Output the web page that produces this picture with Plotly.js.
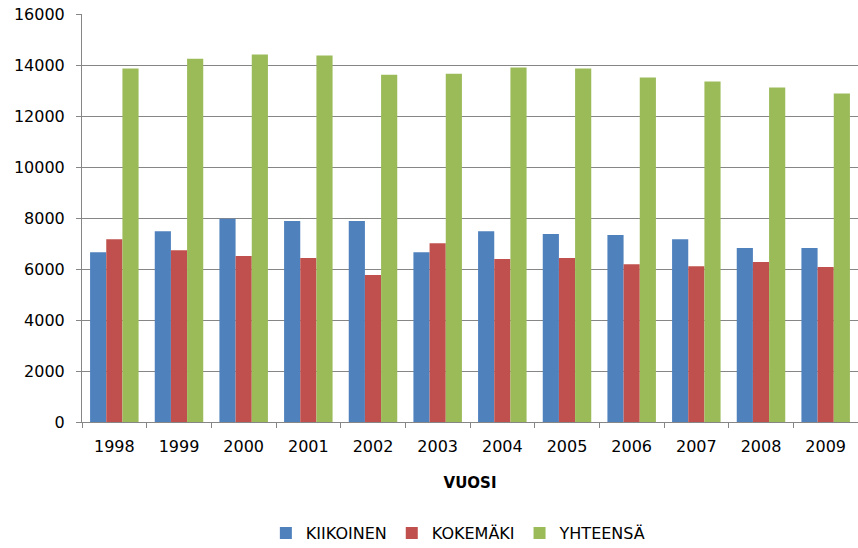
<!DOCTYPE html>
<html>
<head>
<meta charset="utf-8">
<script src="https://cdn.plot.ly/plotly-3.0.1.min.js"></script>
<style>html,body{margin:0;padding:0;background:#fff;}#chart{width:858px;height:548px;}</style>
</head>
<body>
<div id="chart"></div>
<script>
const years = ["1998","1999","2000","2001","2002","2003","2004","2005","2006","2007","2008","2009"];
const kiikoinen = [6660, 7480, 7970, 7880, 7880, 6660, 7480, 7370, 7330, 7170, 6820, 6820];
const kokemaki  = [7170, 6740, 6510, 6430, 5760, 7010, 6390, 6430, 6190, 6110, 6270, 6080];
const yhteensa  = [13860, 14250, 14410, 14370, 13620, 13660, 13900, 13860, 13510, 13350, 13120, 12880];
const seriesNames = ["KIIKOINEN", "KOKEMÄKI", "YHTEENSÄ"];
const colors = ["#4F81BD", "#C0504D", "#9BBB59"];

const font = "DejaVu Sans, sans-serif";
const data = [kiikoinen, kokemaki, yhteensa].map((vals, i) => ({
  type: "bar", x: years, y: vals, name: seriesNames[i],
  marker: {color: colors[i], line: {width: 0}}, hoverinfo: "x+y"
}));

const layout = {
  width: 858, height: 548,
  margin: {l: 82, r: 0, t: 14, b: 126},
  paper_bgcolor: "#fff", plot_bgcolor: "#fff",
  barmode: "group", bargap: 0.25, bargroupgap: 0,
  font: {family: font, size: 16, color: "#000"},
  xaxis: {
    type: "category", showgrid: false, showline: true, linecolor: "#868686", linewidth: 1,
    ticks: "outside", tickson: "boundaries", ticklen: 5, tickcolor: "#868686",
    ticklabelstandoff: 10,
    tickfont: {family: font, size: 16, color: "#000"}, automargin: false,
    title: {text: "<b>VUOSI</b>", font: {family: font, size: 15, color: "#000"}, standoff: 22},
    zeroline: false
  },
  yaxis: {
    range: [0, 16000], dtick: 2000, showgrid: true, gridcolor: "#868686", gridwidth: 1,
    showline: true, linecolor: "#868686", linewidth: 1, ticks: "outside", ticklen: 5, tickcolor: "#868686",
    ticklabelstandoff: 8,
    tickfont: {family: font, size: 16, color: "#000"}, zeroline: false, tickformat: "d", automargin: false
  },
  showlegend: true,
  legend: {orientation: "h", x: 0.485, xanchor: "center", yref: "container", y: 0.027, yanchor: "middle",
           font: {family: font, size: 16, color: "#000"}, traceorder: "normal"}
};
Plotly.newPlot("chart", data, layout, {staticPlot: true, displayModeBar: false});
</script>
</body>
</html>
